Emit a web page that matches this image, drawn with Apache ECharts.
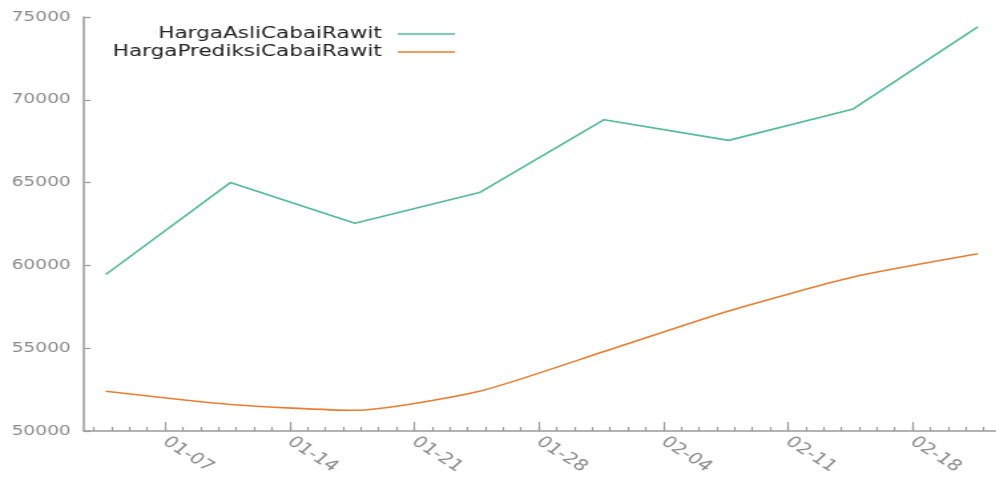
<!DOCTYPE html>
<html>
<head>
<meta charset="utf-8">
<script src="https://cdn.jsdelivr.net/npm/echarts@6/dist/echarts.min.js"></script>
<style>
  html, body { margin: 0; padding: 0; overflow: hidden; background: #fff; }
  /* the chart is laid out narrow and widened, giving the broad lettering */
  #chart { width: 749px; height: 479px; transform: scaleX(1.33); transform-origin: 0 0; }
</style>
</head>
<body>
<div id="chart"></div>
<script>
// Weekly chili (cabai rawit) prices: actual vs predicted
const YEAR = 2016;
const dates = ['01-04', '01-11', '01-18', '01-25', '02-01', '02-08', '02-15', '02-22'];
const hargaAsli = [59450, 65000, 62550, 64400, 68800, 67550, 69450, 74400];
const hargaPrediksi = [52400, 51600, 51250, 52400, 54800, 57250, 59300, 60700];
const weekTicks = ['01-07', '01-14', '01-21', '01-28', '02-04', '02-11', '02-18'];
const yTicks = [50000, 55000, 60000, 65000, 70000, 75000];

// timestamps are midnight local (UTC+8) shown on a UTC day scale
const TZ_HOURS = 8;
function dayNum(mmdd, hours) {
  const [m, d] = mmdd.split('-').map(Number);
  return (Date.UTC(YEAR, m - 1, d) - Date.UTC(YEAR, 0, 0)) / 86400000 - (hours || 0) / 24;
}
function dayLabel(v) {
  const dt = new Date(Date.UTC(YEAR, 0, Math.round(v)));
  const mm = String(dt.getUTCMonth() + 1).padStart(2, '0');
  const dd = String(dt.getUTCDate()).padStart(2, '0');
  return mm + '-' + dd;
}

const xMin = 2.45, xMax = 53.7;
const majorDays = weekTicks.map(t => dayNum(t));
const minorDays = [];
for (let d = Math.ceil(xMin); d <= Math.floor(xMax); d++) minorDays.push(d);

const xs = dates.map(t => dayNum(t, TZ_HOURS));
const seriesAsli = xs.map((x, i) => [x, hargaAsli[i]]);
const seriesPrediksi = xs.map((x, i) => [x, hargaPrediksi[i]]);

const AXIS = '#9a9a9a';
const FONT = 'DejaVu Sans';
const GREEN = '#50bd93';
const ORANGE = '#ec7d2e';

const legendText = { fontFamily: FONT, fontSize: 16.2, color: '#222', padding: [0, 7, 0, 0] };

const chart = echarts.init(document.getElementById('chart'), null, { renderer: 'canvas' });
chart.setOption({
  animation: false,
  backgroundColor: '#ffffff',
  textStyle: { fontFamily: FONT },
  grid: { left: 63.2, right: 0, top: 17, bottom: 48, containLabel: false },
  legend: [
    {
      data: ['HargaAsliCabaiRawit'],
      right: 407, top: 26,
      align: 'right', orient: 'vertical',
      icon: 'rect', itemWidth: 43, itemHeight: 1.6,
      textStyle: legendText,
      padding: 0
    },
    {
      data: ['HargaPrediksiCabaiRawit'],
      right: 407, top: 44,
      align: 'right', orient: 'vertical',
      icon: 'rect', itemWidth: 43, itemHeight: 1.6,
      textStyle: legendText,
      padding: 0
    }
  ],
  xAxis: [
    {
      type: 'value', min: xMin, max: xMax,
      axisLine: { show: true, lineStyle: { color: AXIS, width: 1.5 } },
      axisTick: { show: true, inside: true, length: 9, customValues: majorDays,
                  lineStyle: { color: AXIS, width: 1.2 } },
      axisLabel: { show: true, customValues: majorDays, rotate: -40, margin: 9,
                   fontFamily: FONT, fontSize: 15.5, color: '#8a8a8a',
                   formatter: v => dayLabel(v) },
      splitLine: { show: false }
    },
    {
      type: 'value', min: xMin, max: xMax, position: 'bottom',
      axisLine: { show: false },
      axisTick: { show: true, inside: true, length: 4, customValues: minorDays,
                  lineStyle: { color: AXIS, width: 1.2 } },
      axisLabel: { show: false },
      splitLine: { show: false }
    }
  ],
  yAxis: {
    type: 'value', min: yTicks[0], max: yTicks[yTicks.length - 1], interval: 5000,
    axisLine: { show: true, lineStyle: { color: AXIS, width: 1.5 } },
    axisTick: { show: true, inside: true, length: 5, lineStyle: { color: AXIS, width: 1.2 } },
    axisLabel: { margin: 10, fontFamily: FONT, fontSize: 14, color: '#8a8a8a',
                 formatter: v => String(v) },
    splitLine: { show: false }
  },
  series: [
    {
      name: 'HargaAsliCabaiRawit', type: 'line', data: seriesAsli,
      showSymbol: false, symbol: 'none',
      itemStyle: { color: GREEN },
      lineStyle: { color: GREEN, width: 1.6 }
    },
    {
      name: 'HargaPrediksiCabaiRawit', type: 'line', data: seriesPrediksi,
      showSymbol: false, symbol: 'none', smooth: 0.2,
      itemStyle: { color: ORANGE },
      lineStyle: { color: ORANGE, width: 1.6 }
    }
  ]
});
</script>
</body>
</html>
